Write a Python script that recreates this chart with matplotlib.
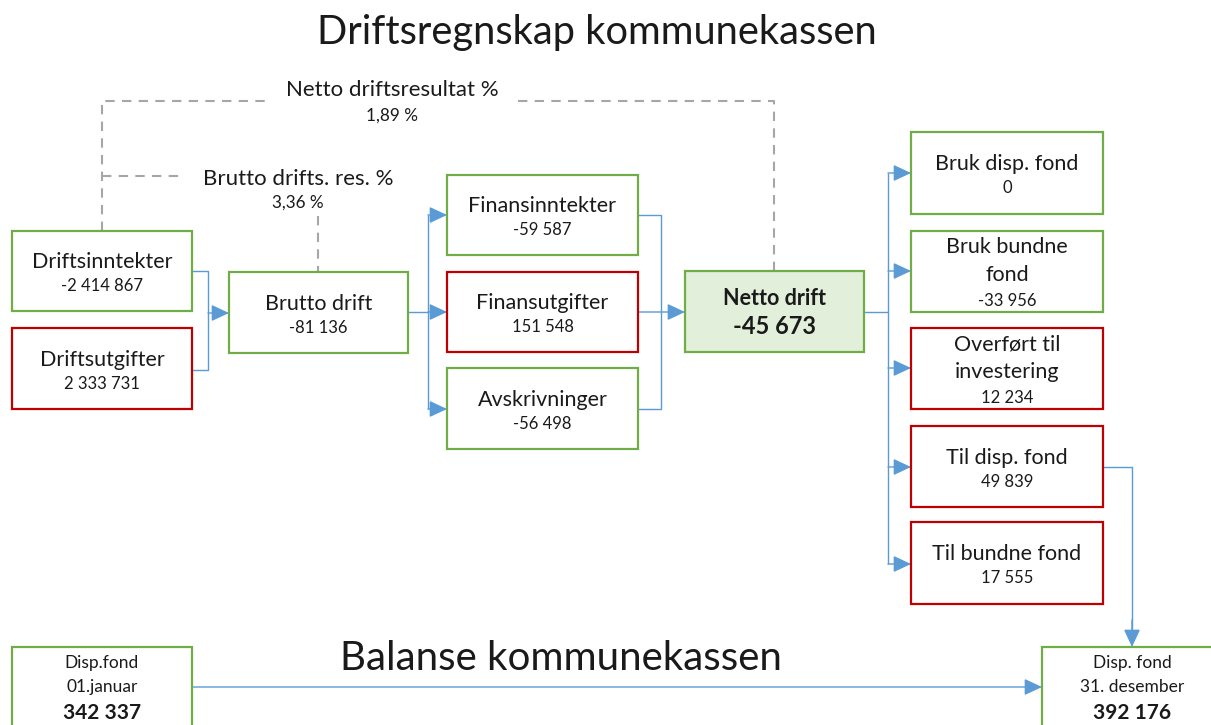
import matplotlib
matplotlib.use("Agg")
import matplotlib.pyplot as plt
from matplotlib.patches import Rectangle

plt.rcParams['font.family'] = ['Lato', 'DejaVu Sans']

# ---------------- data ----------------
title_top = "Driftsregnskap kommunekassen"
title_bottom = "Balanse kommunekassen"

box_labels = ["Driftsinntekter", "Driftsutgifter", "Brutto drift",
              "Finansinntekter", "Finansutgifter", "Avskrivninger",
              "Netto drift",
              "Bruk disp. fond", "Bruk bundne\nfond", "Overført til\ninvestering",
              "Til disp. fond", "Til bundne fond"]
box_values = [-2414867, 2333731, -81136,
              -59587, 151548, -56498,
              -45673,
              0, -33956, 12234,
              49839, 17555]
box_kind = ["inn", "ut", "inn",
            "inn", "ut", "inn",
            "netto",
            "inn", "inn", "ut",
            "ut", "ut"]

ratio_labels = ["Netto driftsresultat %", "Brutto drifts. res. %"]
ratio_values = [1.89, 3.36]

fund_labels = ["Disp.fond\n01.januar", "Disp. fond\n31. desember"]
fund_values = [342337, 392176]

# ---------------- layout (pixel coordinates) ----------------
W, H = 1211, 725
box_xy = [(12, 231, 180, 80), (12, 328, 180, 81), (229, 272, 179, 81),
          (447, 175, 191, 80), (447, 272, 191, 80), (447, 368, 191, 81),
          (685, 271, 179, 81),
          (911, 132, 192, 82), (911, 231, 192, 81), (911, 328, 192, 81),
          (911, 426, 192, 81), (911, 522, 192, 82)]
fund_xy = [(12, 647, 180, 110), (1042, 647, 180, 110)]

GREEN = "#70ad47"
RED = "#c00000"
BLUE = "#5b9bd5"
GREY = "#a6a6a6"
NETTO_FILL = "#e2efda"
TXT = "#1a1a1a"

FS_LABEL = 15.5
FS_VALUE = 12


def fmt(v):
    return f"{v:,}".replace(",", " ")


fig = plt.figure(figsize=(W / 100, H / 100), dpi=100)
ax = fig.add_axes([0, 0, 1, 1])
ax.set_xlim(0, W)
ax.set_ylim(H, 0)
ax.axis("off")


def line(pts, color=BLUE, lw=1.0, ls="-", z=1):
    xs = [p[0] for p in pts]
    ys = [p[1] for p in pts]
    ax.plot(xs, ys, color=color, lw=lw, ls=ls, zorder=z, solid_capstyle="butt",
            dash_capstyle="butt")


def arrow(p0, p1):
    ax.annotate("", xy=p1, xytext=p0,
                arrowprops=dict(arrowstyle="-|>,head_length=0.9,head_width=0.42",
                                mutation_scale=12, color=BLUE, lw=1.0,
                                shrinkA=0, shrinkB=0), zorder=2)


# dashed ratio lines
dash = dict(color=GREY, lw=1.5, ls=(0, (4.5, 3.5)), z=1)
line([(102, 231), (102, 101), (266, 101)], **dash)
line([(518, 101), (774, 101), (774, 271)], **dash)
line([(102, 176), (181, 176)], **dash)
line([(318, 216), (318, 272)], **dash)
ax.text(392, 90, ratio_labels[0], ha="center", va="center", fontsize=16, color=TXT)
ax.text(392, 116, f"{ratio_values[0]:.2f} %".replace(".", ","), ha="center",
        va="center", fontsize=12.3, color=TXT)
ax.text(298, 179, ratio_labels[1], ha="center", va="center", fontsize=16, color=TXT)
ax.text(298, 203, f"{ratio_values[1]:.2f} %".replace(".", ","), ha="center",
        va="center", fontsize=12.3, color=TXT)

# boxes
for (x, y, w, h), lab, val, kind in zip(box_xy, box_labels, box_values, box_kind):
    ec = RED if kind == "ut" else GREEN
    fc = NETTO_FILL if kind == "netto" else "white"
    ax.add_patch(Rectangle((x, y), w, h, fc=fc, ec=ec, lw=1.6, zorder=3))
    cx, cy = x + w / 2, y + h / 2
    lines = lab.split("\n")
    if kind == "netto":
        ax.text(cx, cy - 13, lab, ha="center", va="center", fontsize=15.5,
                fontweight="bold", color=TXT, zorder=4)
        ax.text(cx, cy + 15, fmt(val), ha="center", va="center", fontsize=17,
                fontweight="bold", color=TXT, zorder=4)
        continue
    if len(lines) == 1:
        ax.text(cx, cy - 9, lab, ha="center", va="center", fontsize=FS_LABEL,
                color=TXT, zorder=4)
        ax.text(cx, cy + 15, fmt(val), ha="center", va="center", fontsize=FS_VALUE,
                color=TXT, zorder=4)
    else:
        ax.text(cx, cy - 24.5, lines[0], ha="center", va="center", fontsize=FS_LABEL,
                color=TXT, zorder=4)
        ax.text(cx, cy + 3.5, lines[1], ha="center", va="center", fontsize=FS_LABEL,
                color=TXT, zorder=4)
        ax.text(cx, cy + 29.5, fmt(val), ha="center", va="center", fontsize=FS_VALUE,
                color=TXT, zorder=4)

# connectors
line([(192, 271), (208, 271), (208, 370), (192, 370)])
arrow((208, 313), (229, 313))
line([(408, 312), (428, 312)])
line([(428, 215), (428, 409)])
for yy in (215, 312, 409):
    arrow((428, yy), (447, yy))
line([(638, 215), (661, 215), (661, 409), (638, 409)])
arrow((638, 312), (685, 312))
line([(864, 312), (888, 312)])
line([(888, 173), (888, 564)])
for yy in (173, 271, 368, 467, 564):
    arrow((888, yy), (911, yy))
line([(1103, 467), (1132, 467), (1132, 630)])
arrow((1132, 620), (1132, 647))
arrow((192, 687), (1042, 687))

# fund boxes
for (x, y, w, h), lab, val in zip(fund_xy, fund_labels, fund_values):
    ax.add_patch(Rectangle((x, y), w, h, fc="white", ec=GREEN, lw=1.6, zorder=3))
    cx = x + w / 2
    l1, l2 = lab.split("\n")
    ax.text(cx, 663, l1, ha="center", va="center", fontsize=12.5, color=TXT, zorder=4)
    ax.text(cx, 687, l2, ha="center", va="center", fontsize=12.5, color=TXT, zorder=4)
    ax.text(cx, 713, fmt(val), ha="center", va="center", fontsize=15,
            fontweight="bold", color=TXT, zorder=4)

# titles
ax.text(597, 32, title_top, ha="center", va="center", fontsize=28.7, color=TXT)
ax.text(561, 658, title_bottom, ha="center", va="center", fontsize=29, color=TXT)

fig.savefig("out.png", dpi=100)
